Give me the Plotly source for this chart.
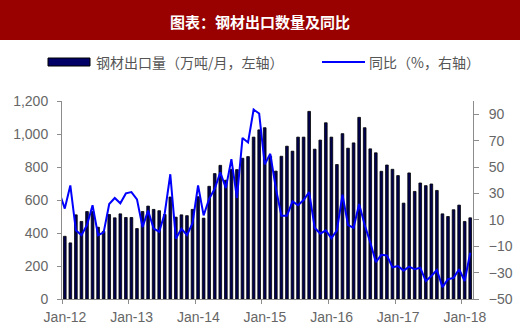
import plotly.graph_objects as go

# ---------------- data ----------------
bar_months = ["2012-%02d" % m for m in range(1, 13)] + ["2013-%02d" % m for m in range(1, 13)] + \
             ["2014-%02d" % m for m in range(1, 13)] + ["2015-%02d" % m for m in range(1, 13)] + \
             ["2016-%02d" % m for m in range(1, 13)] + ["2017-%02d" % m for m in range(1, 13)] + \
             ["2018-01", "2018-02"]

export_volume = [
    380, 340, 510, 470, 530, 530, 435, 410, 512, 492, 516, 494,      # 2012
    494, 427, 530, 563, 543, 535, 512, 618, 496, 510, 505, 543,      # 2013
    620, 490, 683, 760, 810, 720, 786, 784, 853, 863, 981, 1025,     # 2014
    1038, 865, 775, 865, 926, 896, 981, 981, 1137, 908, 963, 1068,   # 2015
    981, 815, 1002, 914, 946, 1101, 1038, 910, 886, 774, 812, 786,   # 2016
    748, 581, 764, 652, 703, 687, 697, 658, 516, 500, 541, 569,      # 2017
    470, 492,                                                        # 2018
]

line_months = ["2011-12"] + bar_months
yoy = [
    31,
    18.5, 36, 2, -1.7, 6, 21, -1.7, 0.5, 22, 26.5, 22.5, 30,         # 2012
    31, 25.5, 4.5, 17, 3.3, 1, 15, 44.5, -4.3, 3.3, -1.7, 7.5,       # 2013
    36, 13.3, 26, 33.5, 46, 34, 56, 26.5, 72, 68.6, 93.5, 90.5,      # 2014
    52, 60, 34, 13, 13, 24, 21, 25, 31, 4, -0.5, 2,                  # 2015
    -4, 2, 29, 6, 4, 22, 6, -7, -22, -16.5, -17, -26,                # 2016
    -25, -28.5, -25.5, -27.5, -26.3, -36.4, -32.6, -28, -41, -35, -34, -27.5,  # 2017
    -36.4, -15,                                                      # 2018
]

year_ticks = ["Jan-12", "Jan-13", "Jan-14", "Jan-15", "Jan-16", "Jan-17", "Jan-18"]
left_ticks = [0, 200, 400, 600, 800, 1000, 1200]
right_ticks = [-50, -30, -10, 10, 30, 50, 70, 90]

title_text = "图表：钢材出口数量及同比"
legend_bar = "钢材出口量（万吨/月，左轴）"
legend_line = "同比（%，右轴）"


def month_index(s):
    y, m = s.split("-")
    return (int(y) - 2012) * 12 + int(m) - 1


bar_x = [month_index(s) for s in bar_months]
line_x = [month_index(s) for s in line_months]
tick_pos = [month_index("20%s-01" % t[-2:]) - 0.5 for t in year_ticks]

# ---------------- figure ----------------
W, H = 520, 331
L, R, T, B = 62, 47, 101, 32
PW, PH = W - L - R, H - T - B


def px(x):
    return (x - L) / PW


def py(y):
    return (H - B - y) / PH


fig = go.Figure()
fig.add_trace(go.Bar(
    x=bar_x, y=export_volume, width=0.48,
    marker=dict(color="#000050", line=dict(color="#000000", width=0.8)),
    yaxis="y", showlegend=False, name=legend_bar,
))
fig.add_trace(go.Scatter(
    x=line_x, y=yoy, mode="lines",
    line=dict(color="#0000ff", width=2),
    yaxis="y2", showlegend=False, name=legend_line,
))

tickfont = dict(family="Liberation Sans, Arial", size=14, color="#666666")
axcol = "#8c8c8c"

fig.update_layout(
    width=W, height=H,
    margin=dict(l=L, r=R, t=T, b=B, autoexpand=False),
    paper_bgcolor="white", plot_bgcolor="white",
    xaxis=dict(
        range=[-0.5, len(bar_months) - 0.5],
        tickmode="array", tickvals=tick_pos, ticktext=year_ticks,
        ticks="outside", ticklen=4, tickcolor=axcol,
        showline=True, linecolor=axcol, linewidth=1,
        showgrid=False, zeroline=False, automargin=False,
        tickfont=tickfont, ticklabelshift=3, ticklabelstandoff=1,
    ),
    yaxis=dict(
        range=[0, 1200], tickmode="array", tickvals=left_ticks,
        tickformat=",", ticks="outside", ticklen=4, tickcolor=axcol,
        showline=True, linecolor=axcol, linewidth=1,
        showgrid=False, zeroline=False, tickfont=tickfont,
        ticklabelstandoff=6, automargin=False,
    ),
    yaxis2=dict(
        range=[-50, 100], tickmode="array", tickvals=right_ticks,
        overlaying="y", side="right",
        ticks="outside", ticklen=5, tickcolor=axcol,
        showline=True, linecolor=axcol, linewidth=1,
        showgrid=False, zeroline=False, tickfont=tickfont,
        ticklabelstandoff=7, automargin=False,
    ),
    shapes=[
        dict(type="rect", xref="paper", yref="paper",
             x0=px(0), x1=px(W), y0=py(40), y1=py(0),
             fillcolor="#990000", line=dict(width=0), layer="above"),
        dict(type="rect", xref="paper", yref="paper",
             x0=px(48), x1=px(90), y0=py(66), y1=py(58),
             fillcolor="#000066", line=dict(color="#000000", width=1)),
        dict(type="line", xref="paper", yref="paper",
             x0=px(322), x1=px(365), y0=py(62), y1=py(62),
             line=dict(color="#0000ff", width=2)),
    ],
    annotations=[
        dict(text="<b>%s</b>" % title_text, xref="paper", yref="paper",
             x=px(260), y=py(21), xanchor="center", yanchor="middle",
             showarrow=False,
             font=dict(family="Noto Sans CJK SC", size=15, color="white")),
        dict(text=legend_bar, xref="paper", yref="paper",
             x=px(94), y=py(62), xanchor="left", yanchor="middle",
             showarrow=False,
             font=dict(family="Noto Sans CJK SC", size=14, color="#555555")),
        dict(text=legend_line, xref="paper", yref="paper",
             x=px(367), y=py(62), xanchor="left", yanchor="middle",
             showarrow=False,
             font=dict(family="Noto Sans CJK SC", size=14, color="#555555")),
    ],
)

fig.write_html("out.html")
